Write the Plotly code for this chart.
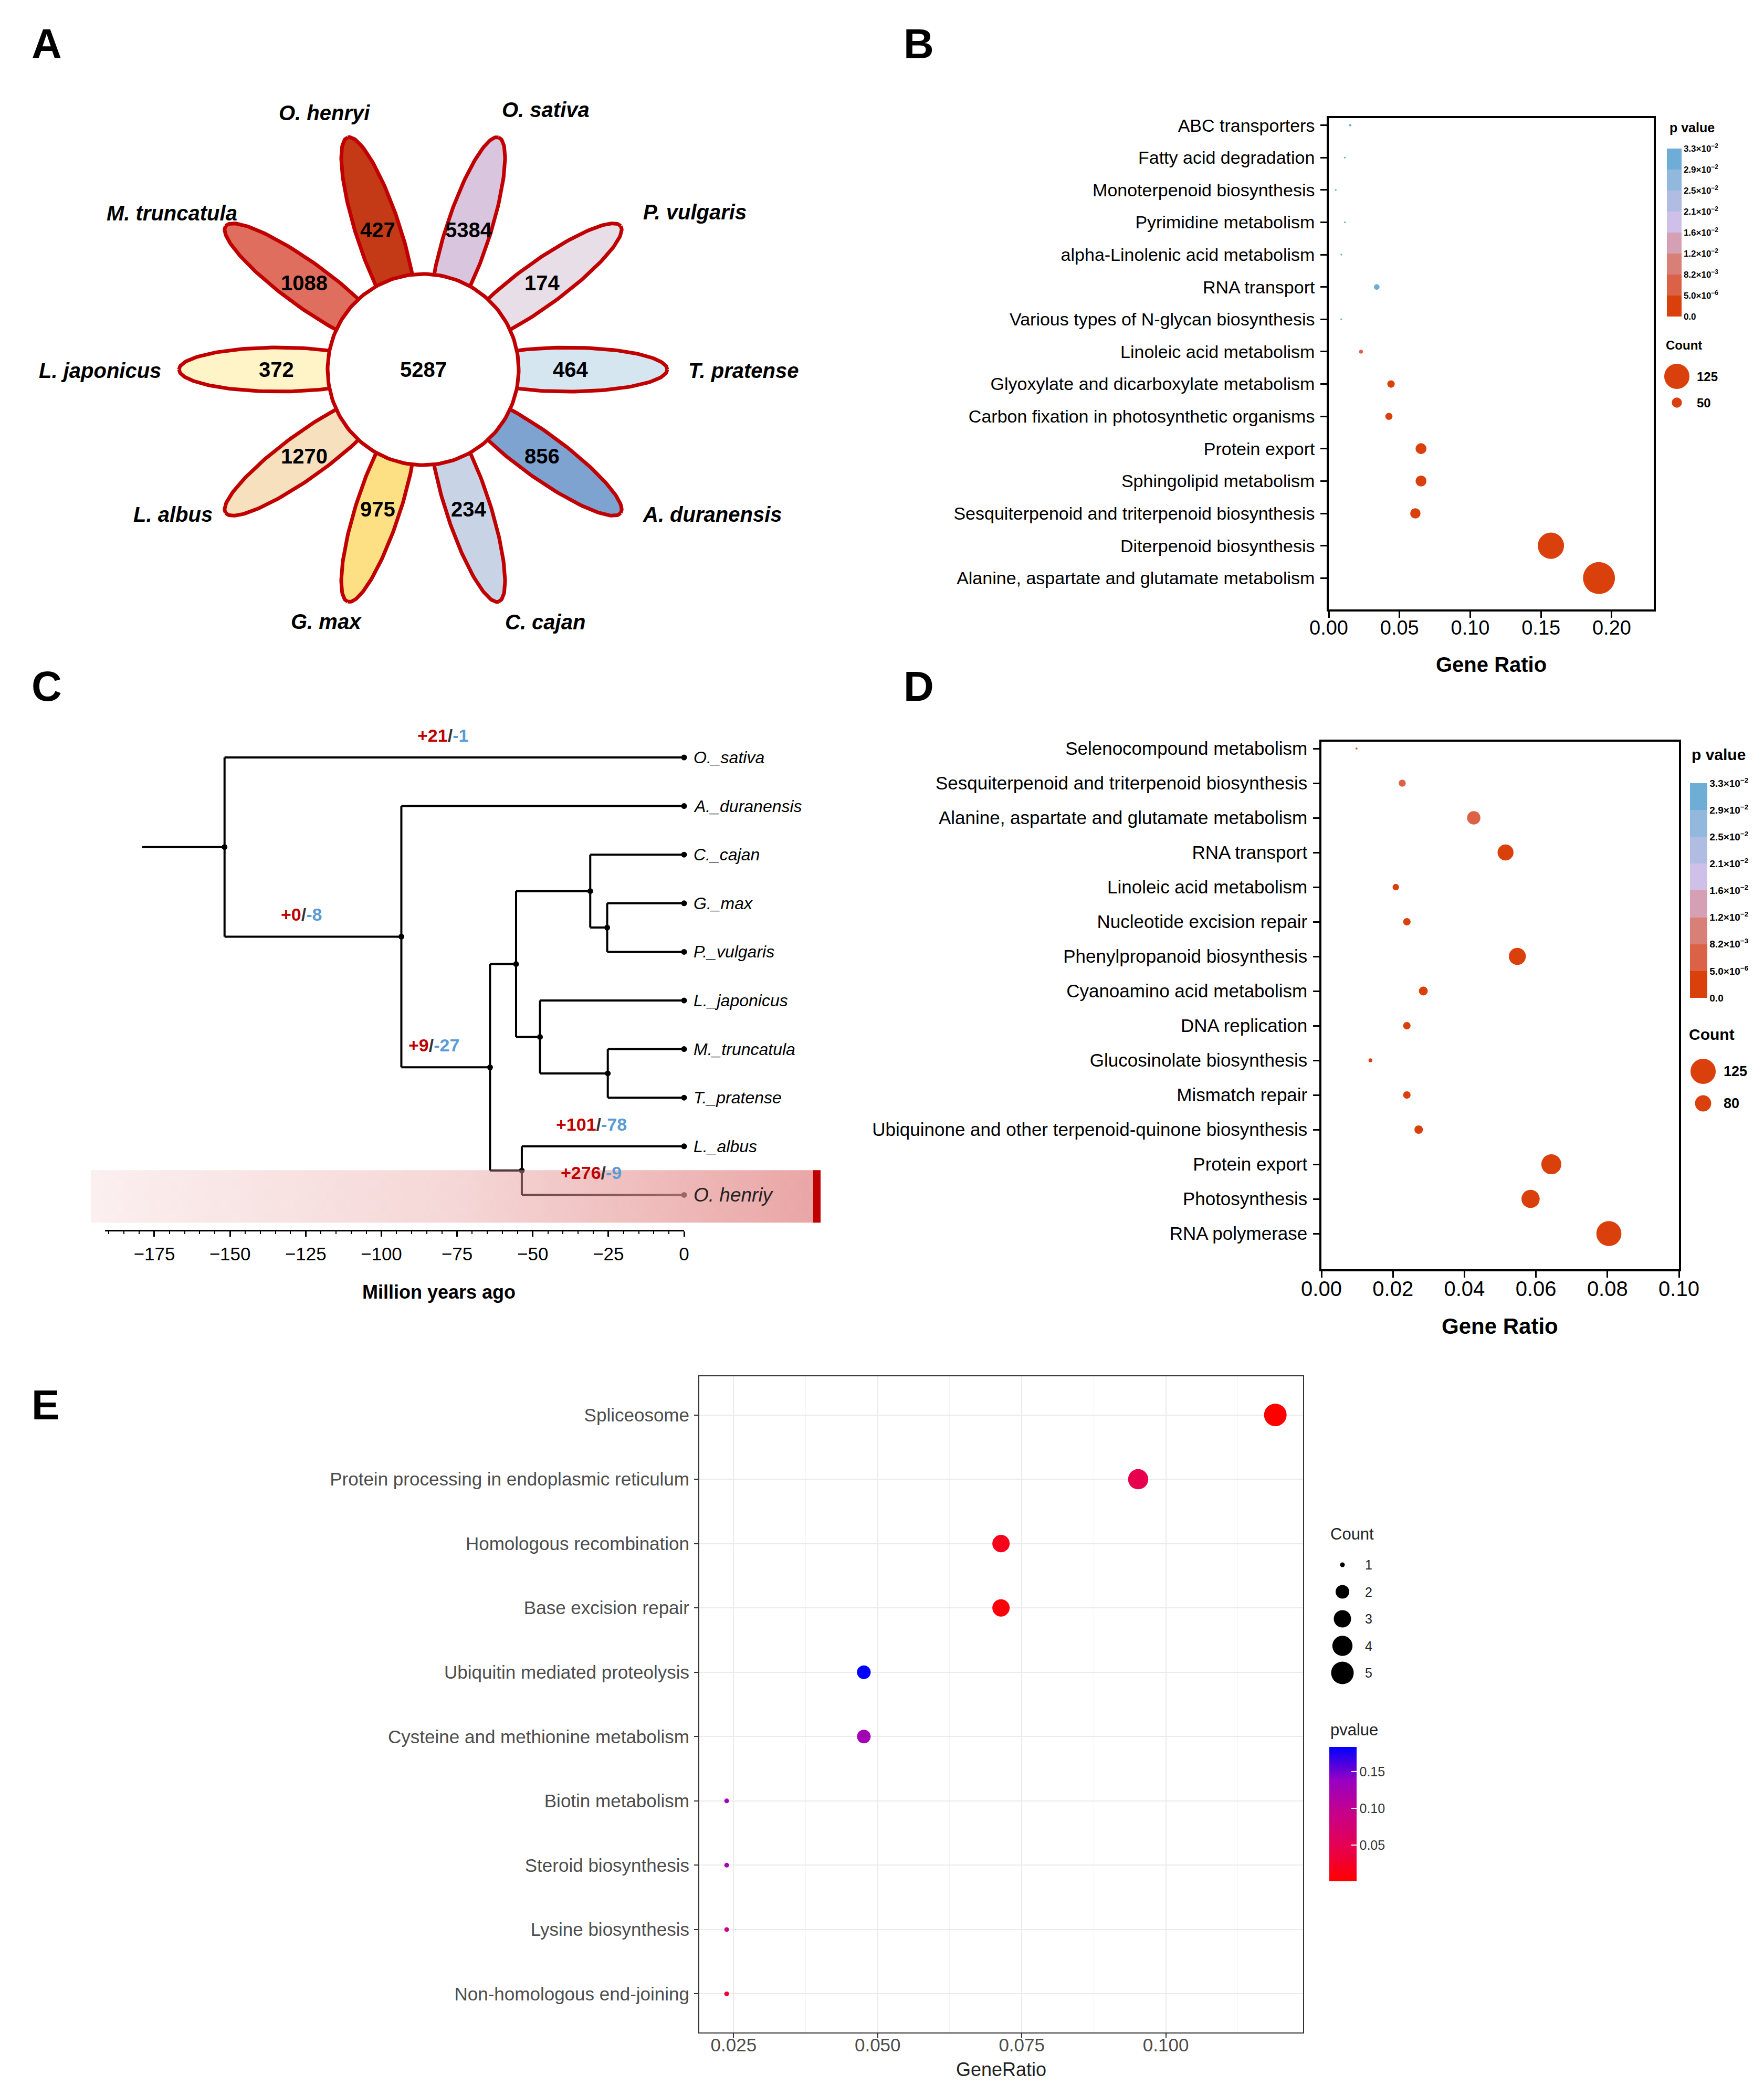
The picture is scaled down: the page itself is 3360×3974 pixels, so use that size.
import numpy as np
import plotly.graph_objects as go

W, H = 3360, 3974
FONT = "Liberation Sans, Arial, Helvetica, sans-serif"

# ======================= DATA =======================
# ---- Panel A : flower (petal order = counter-clockwise from the right) ----
FLOWER_SPECIES = ["T. pratense", "P. vulgaris", "O. sativa", "O. henryi", "M. truncatula",
                  "L. japonicus", "L. albus", "G. max", "C. cajan", "A. duranensis"]
FLOWER_UNIQUE = [464, 174, 5384, 427, 1088, 372, 1270, 975, 234, 856]
FLOWER_CORE = 5287
FLOWER_FILL = ["#D5E6F0", "#E8DEE8", "#DAC5DF", "#C43A17", "#E06E5F",
               "#FFF4C8", "#F6E0BE", "#FDE083", "#C8D4E6", "#7EA3D0"]

# ---- Panel B ----
B_TERMS = ["ABC transporters", "Fatty acid degradation", "Monoterpenoid biosynthesis",
           "Pyrimidine metabolism", "alpha-Linolenic acid metabolism", "RNA transport",
           "Various types of N-glycan biosynthesis", "Linoleic acid metabolism",
           "Glyoxylate and dicarboxylate metabolism", "Carbon fixation in photosynthetic organisms",
           "Protein export", "Sphingolipid metabolism", "Sesquiterpenoid and triterpenoid biosynthesis",
           "Diterpenoid biosynthesis", "Alanine, aspartate and glutamate metabolism"]
B_RATIO = [0.0151, 0.0113, 0.0049, 0.0114, 0.0089, 0.0339, 0.0089, 0.0228,
           0.0440, 0.0425, 0.0652, 0.0652, 0.0612, 0.157, 0.191]
B_COUNT = [12, 9, 4, 9, 7, 28, 7, 19, 37, 35, 54, 54, 51, 130, 158]
B_PVALUE = [0.0322, 0.0310, 0.0316, 0.0305, 0.0312, 0.0328, 0.0309, 0.0041,
            2.1e-6, 1.8e-6, 4.0e-9, 6.2e-9, 1.1e-8, 0.0, 0.0]
B_COUNT_KEYS = [125, 50]

# ---- Panel D ----
D_TERMS = ["Selenocompound metabolism", "Sesquiterpenoid and triterpenoid biosynthesis",
           "Alanine, aspartate and glutamate metabolism", "RNA transport", "Linoleic acid metabolism",
           "Nucleotide excision repair", "Phenylpropanoid biosynthesis", "Cyanoamino acid metabolism",
           "DNA replication", "Glucosinolate biosynthesis", "Mismatch repair",
           "Ubiquinone and other terpenoid-quinone biosynthesis", "Protein export",
           "Photosynthesis", "RNA polymerase"]
D_RATIO = [0.0098, 0.0226, 0.0426, 0.0515, 0.0208, 0.0239, 0.0548, 0.0285,
           0.0239, 0.0137, 0.0239, 0.0272, 0.0643, 0.0585, 0.0804]
D_COUNT = [11, 35, 66, 79, 32, 37, 84, 44, 37, 19, 37, 42, 99, 90, 124]
D_PVALUE = [0.0062, 0.0038, 0.0027, 1.2e-7, 3.3e-6, 2.4e-6, 5.1e-9, 1.7e-6,
            2.2e-6, 9.0e-7, 2.6e-6, 1.4e-6, 0.0, 3.0e-9, 0.0]
D_COUNT_KEYS = [125, 80]

# shared binned p-value legend of B and D
P_BREAKS = [0.0, 5.0e-6, 8.2e-3, 1.2e-2, 1.6e-2, 2.1e-2, 2.5e-2, 2.9e-2, 3.3e-2]
P_BIN_COLORS = ["#DA400C", "#DB6246", "#D88078", "#D6A0B4",
                "#CEC0E8", "#B0BCE2", "#92B8DE", "#6EAED6"]

# ---- Panel C : dated tree ----
TREE_TIPS = ["O._sativa", "A._duranensis", "C._cajan", "G._max", "P._vulgaris",
             "L._japonicus", "M._truncatula", "T._pratense", "L._albus", "O. henriy"]
TREE_NODES = [  # (node, age in Mya (negative), children)
    ("n_GP", -25.4, ("G._max", "P._vulgaris")),
    ("n_CGP", -31.0, ("C._cajan", "n_GP")),
    ("n_MT", -25.2, ("M._truncatula", "T._pratense")),
    ("n_LMT", -47.6, ("L._japonicus", "n_MT")),
    ("n_core", -55.5, ("n_CGP", "n_LMT")),
    ("n_LO", -53.6, ("L._albus", "O. henriy")),
    ("n_pap", -64.1, ("n_core", "n_LO")),
    ("n_leg", -93.4, ("A._duranensis", "n_pap")),
    ("n_root", -151.8, ("O._sativa", "n_leg")),
]
TREE_ROOT_STEM = -179.0
GAIN_LOSS = [("O._sativa", 21, 1), ("n_leg", 0, 8), ("n_pap", 9, 27),
             ("L._albus", 101, 78), ("O. henriy", 276, 9)]
HIGHLIGHT_TIP = "O. henriy"
TIME_TICKS = [-175, -150, -125, -100, -75, -50, -25, 0]

# ---- Panel E ----
E_TERMS = ["Spliceosome", "Protein processing in endoplasmic reticulum", "Homologous recombination",
           "Base excision repair", "Ubiquitin mediated proteolysis", "Cysteine and methionine metabolism",
           "Biotin metabolism", "Steroid biosynthesis", "Lysine biosynthesis", "Non-homologous end-joining"]
E_RATIO = [0.119, 0.0952, 0.0714, 0.0714, 0.0476, 0.0476, 0.0238, 0.0238, 0.0238, 0.0238]
E_COUNT = [5, 4, 3, 3, 2, 2, 1, 1, 1, 1]
E_PVALUE = [0.0005, 0.046, 0.015, 0.006, 0.184, 0.128, 0.132, 0.125, 0.089, 0.030]
E_COUNT_KEYS = [1, 2, 3, 4, 5]
E_P_TICKS = [0.05, 0.10, 0.15]

# ======================= HELPERS =======================
def dom_x(a, b):
    return [a / W, b / W]

def dom_y(top, bottom):
    return [1 - bottom / H, 1 - top / H]

def px(x, y):
    return dict(x=x / W, y=1 - y / H, xref="paper", yref="paper")

def size_bd(c):
    return np.maximum(3.5, 0.385 * np.asarray(c, dtype=float))

def size_e(c):
    c = np.asarray(c, dtype=float)
    return 9 + (43 - 9) * np.sqrt((c - 1) / 4.0)

def p_bin(p):
    b = np.searchsorted(np.asarray(P_BREAKS), np.asarray(p, dtype=float), side="right") - 1
    return np.clip(b, 0, len(P_BIN_COLORS) - 1)

def sci(v):
    if v == 0:
        return "<b>0.0</b>"
    e = int(np.floor(np.log10(v)))
    m = v / 10 ** e
    return "<b>%.1f×10<sup>−%d</sup></b>" % (m, -e)

nb = len(P_BIN_COLORS)
DISCRETE = []
for i, c in enumerate(P_BIN_COLORS):
    DISCRETE.append([i / nb, c])
    DISCRETE.append([(i + 1) / nb, c])

LAB_RED_BLUE = [[0, "#FF0000"], [0.25, "#E7004F"], [0.5, "#C80088"], [0.75, "#9900C2"], [1, "#0000FF"]]

fig = go.Figure()
ann = []

def T(text, size, color="black", **kw):
    d = dict(text=text, showarrow=False, font=dict(family=FONT, size=size, color=color),
             xanchor="center", yanchor="middle")
    d.update(kw)
    return d

# ======================= PANEL A =======================
CXA, CYA = 798, 696
A_LEFT, A_RIGHT, A_TOP, A_BOT = 0, 1650, 100, 1290
PET_C, PET_A, PET_B, CIRC_R, NUM_R = 275, 190, 42, 182, 280
tt = np.linspace(0, 2 * np.pi, 181)
n_pet = len(FLOWER_SPECIES)
for i, (sp, val, col) in enumerate(zip(FLOWER_SPECIES, FLOWER_UNIQUE, FLOWER_FILL)):
    th = 2 * np.pi * i / n_pet
    u = PET_C + PET_A * np.cos(tt)
    v = PET_B * np.sin(tt)
    xs = u * np.cos(th) - v * np.sin(th)
    ys = u * np.sin(th) + v * np.cos(th)
    fig.add_trace(go.Scatter(x=xs, y=ys, mode="lines", fill="toself", fillcolor=col,
                             line=dict(color="#C00000", width=7), xaxis="x", yaxis="y",
                             hoverinfo="skip", showlegend=False))
    ann.append(T("<b>%d</b>" % val, 40, xref="x", yref="y",
                 x=NUM_R * np.cos(th), y=NUM_R * np.sin(th)))
fig.add_trace(go.Scatter(x=CIRC_R * np.cos(tt), y=CIRC_R * np.sin(tt), mode="lines", fill="toself",
                         fillcolor="white", line=dict(color="#C00000", width=7),
                         xaxis="x", yaxis="y", hoverinfo="skip", showlegend=False))
ann.append(T("<b>%d</b>" % FLOWER_CORE, 40, xref="x", yref="y", x=0, y=0))
SPECIES_LABEL_OFFSET = {  # label centre relative to flower centre (px, y up)
    "T. pratense": (610, -2), "P. vulgaris": (517, 300), "O. sativa": (233, 495),
    "O. henryi": (-188, 489), "M. truncatula": (-479, 298), "L. japonicus": (-616, -2),
    "L. albus": (-477, -276), "G. max": (-185, -480), "C. cajan": (232, -481),
    "A. duranensis": (551, -276)}
for sp in FLOWER_SPECIES:
    dx, dy = SPECIES_LABEL_OFFSET[sp]
    ann.append(T("<b><i>%s</i></b>" % sp, 40, xref="x", yref="y", x=dx, y=dy))

# ======================= PANEL B & D =======================
def enrich_panel(terms, ratio, count, pval, xa, ya, box, yrange, xrange, xticks,
                 cb_x, cb_top, cb_len, cb_thick, cb_font, tickfont_y, tickfont_x):
    bins = p_bin(pval)
    fig.add_trace(go.Scatter(
        x=ratio, y=list(range(len(terms))), mode="markers", xaxis=xa, yaxis=ya,
        marker=dict(size=size_bd(count), color=bins + 0.5, colorscale=DISCRETE, cmin=0, cmax=nb,
                    line=dict(width=0), opacity=1, showscale=True,
                    colorbar=dict(x=cb_x / W, xanchor="left", y=1 - cb_top / H, yanchor="top",
                                  len=cb_len, lenmode="pixels", thickness=cb_thick,
                                  thicknessmode="pixels", xpad=0, ypad=0, outlinewidth=0,
                                  tickmode="array", tickvals=list(range(nb + 1)),
                                  ticktext=[sci(v) for v in P_BREAKS], ticks="",
                                  tickfont=dict(family=FONT, size=cb_font, color="black"))),
        hoverinfo="skip", showlegend=False))
    l, t, r, b = box
    axx = dict(domain=dom_x(l, r), range=xrange, anchor=ya, showgrid=False, zeroline=False,
               automargin=False,
               showline=True, linecolor="black", linewidth=3.5, mirror=True,
               ticks="outside", ticklen=12, tickwidth=3, tickcolor="black",
               tickmode="array", tickvals=xticks, ticktext=["%.2f" % v for v in xticks],
               tickfont=dict(family=FONT, size=tickfont_x, color="black"), ticklabelstandoff=-13)
    axy = dict(domain=dom_y(t, b), range=yrange, anchor=xa, showgrid=False, zeroline=False,
               automargin=False,
               showline=True, linecolor="black", linewidth=3.5, mirror=True,
               ticks="outside", ticklen=12, tickwidth=3, tickcolor="black",
               tickmode="array", tickvals=list(range(len(terms))), ticktext=terms,
               tickfont=dict(family=FONT, size=tickfont_y, color="black"), ticklabelstandoff=4)
    return axx, axy

xb, yb = enrich_panel(B_TERMS, B_RATIO, B_COUNT, B_PVALUE, "x2", "y2", (2523, 217, 3142, 1153),
                      [14.97, -0.221], [0, 0.2297], [0, 0.05, 0.10, 0.15, 0.20],
                      3167, 275, 320, 28, 17, 34, 38)
xd, yd = enrich_panel(D_TERMS, D_RATIO, D_COUNT, D_PVALUE, "x5", "y5", (2509, 1405, 3190, 2410),
                      [15.03, -0.197], [0, 0.10], [0, 0.02, 0.04, 0.06, 0.08, 0.10],
                      3211, 1484, 409, 33, 19, 35, 40)

# ======================= PANEL C : tree =======================
K = 5.766           # px per million years
ZERO_PX = 1295
TIP0_PX, TIP_STEP = 1435, 92.6
C_LEFT, C_RIGHT, C_TOP, C_BOT = 150, 1600, 1380, 2335
node_x = {t: 0.0 for t in TREE_TIPS}
node_y = {t: float(i) for i, t in enumerate(TREE_TIPS)}
parent = {}
for name, age, ch in TREE_NODES:
    node_x[name] = age
    node_y[name] = (node_y[ch[0]] + node_y[ch[1]]) / 2.0
    for c in ch:
        parent[c] = name
lx, ly = [], []
for name, age, ch in TREE_NODES:
    ys = [node_y[c] for c in ch]
    lx += [age, age, None]
    ly += [min(ys), max(ys), None]
    for c in ch:
        lx += [age, node_x[c], None]
        ly += [node_y[c], node_y[c], None]
root = TREE_NODES[-1][0]
lx += [TREE_ROOT_STEM, node_x[root], None]
ly += [node_y[root], node_y[root], None]
fig.add_trace(go.Scatter(x=lx, y=ly, mode="lines", line=dict(color="black", width=4),
                         xaxis="x3", yaxis="y3", hoverinfo="skip", showlegend=False))
all_nodes = TREE_TIPS + [n for n, _, _ in TREE_NODES]
fig.add_trace(go.Scatter(x=[node_x[n] for n in all_nodes], y=[node_y[n] for n in all_nodes],
                         mode="markers", marker=dict(color="black", size=11, opacity=1),
                         xaxis="x3", yaxis="y3", hoverinfo="skip", showlegend=False))
# highlight band over the highlighted tip
hy = node_y[HIGHLIGHT_TIP]
bx0, bx1, bx2 = (165 - ZERO_PX) / K, (1541 - ZERO_PX) / K, (1555 - ZERO_PX) / K
by0, by1 = hy - 0.51, hy + 0.57
fig.add_trace(go.Scatter(x=[bx0, bx1, bx1, bx0, bx0], y=[by0, by0, by1, by1, by0], mode="lines",
                         fill="toself", line=dict(width=0, color="rgba(0,0,0,0)"),
                         fillgradient=dict(type="horizontal",
                                           colorscale=[[0, "rgba(230,150,150,0.15)"],
                                                       [0.5, "rgba(230,150,150,0.38)"],
                                                       [1, "rgba(230,150,150,0.85)"]]),
                         xaxis="x3", yaxis="y3", hoverinfo="skip", showlegend=False))
fig.add_trace(go.Scatter(x=[bx1, bx2, bx2, bx1, bx1], y=[by0, by0, by1, by1, by0], mode="lines",
                         fill="toself", fillcolor="#C00000", line=dict(width=0, color="#C00000"),
                         xaxis="x3", yaxis="y3", hoverinfo="skip", showlegend=False))
fig.add_trace(go.Scatter(x=[None], y=[None], xaxis="x4", yaxis="y3", showlegend=False))
for t in TREE_TIPS:
    if t == HIGHLIGHT_TIP:
        ann.append(T("<i>%s</i>" % t, 37, color="#222222", xref="x3", yref="y3", x=0, y=node_y[t],
                     xanchor="left", xshift=16))
    else:
        ann.append(T("<i>%s</i>" % t, 32, xref="x3", yref="y3", x=0, y=node_y[t],
                     xanchor="left", xshift=16))
for n, g, l in GAIN_LOSS:
    xm = (node_x[parent[n]] + node_x[n]) / 2.0
    txt = ("<b><span style='color:#C00000'>+%d</span>/<span style='color:#5B9BD5'>-%d</span></b>"
           % (g, l))
    ann.append(T(txt, 34, color="#333333", xref="x3", yref="y3", x=xm, y=node_y[n],
                 xshift=-22, yshift=42))

# ======================= PANEL E =======================
fig.add_trace(go.Scatter(
    x=E_RATIO, y=list(range(len(E_TERMS))), mode="markers", xaxis="x6", yaxis="y6",
    marker=dict(size=size_e(E_COUNT), color=E_PVALUE, colorscale=LAB_RED_BLUE, opacity=1,
                cmin=min(E_PVALUE), cmax=max(E_PVALUE), line=dict(width=0), showscale=True,
                colorbar=dict(x=2524 / W, xanchor="left", y=1 - 3320 / H, yanchor="top",
                              len=256, lenmode="pixels", thickness=52, thicknessmode="pixels",
                              xpad=0, ypad=0, outlinewidth=0, tickmode="array",
                              tickvals=E_P_TICKS, ticktext=["%.2f" % v for v in E_P_TICKS],
                              ticks="inside", ticklen=10, tickwidth=2, tickcolor="white",
                              tickfont=dict(family=FONT, size=25, color="#333333"))),
    hoverinfo="skip", showlegend=False))

# ======================= LEGEND GLYPHS (canvas) =======================
B_LEG_Y = [709, 759]
D_LEG_Y = [2033, 2094]
fig.add_trace(go.Scatter(x=[3186] * len(B_COUNT_KEYS) + [3236] * len(D_COUNT_KEYS),
                         y=B_LEG_Y + D_LEG_Y, mode="markers", xaxis="x7", yaxis="y7",
                         marker=dict(size=size_bd(B_COUNT_KEYS + D_COUNT_KEYS), color=P_BIN_COLORS[0],
                                     opacity=1, line=dict(width=0)), hoverinfo="skip", showlegend=False))
for k, y in zip(B_COUNT_KEYS, B_LEG_Y):
    ann.append(T("<b>%d</b>" % k, 24, xanchor="left", **px(3222, y)))
for k, y in zip(D_COUNT_KEYS, D_LEG_Y):
    ann.append(T("<b>%d</b>" % k, 27, xanchor="left", **px(3273, y)))
E_LEG_Y = [2973 + 51.5 * i for i in range(len(E_COUNT_KEYS))]
fig.add_trace(go.Scatter(x=[2549] * len(E_COUNT_KEYS), y=E_LEG_Y, mode="markers", xaxis="x7", yaxis="y7",
                         marker=dict(size=size_e(E_COUNT_KEYS), color="black", opacity=1,
                                     line=dict(width=0)),
                         hoverinfo="skip", showlegend=False))
for k, y in zip(E_COUNT_KEYS, E_LEG_Y):
    ann.append(T("%d" % k, 25, color="#222222", xanchor="left", **px(2590, y)))

# legend titles and axis titles
ann.append(T("<b>p value</b>", 25, xanchor="left", **px(3170, 235)))
ann.append(T("<b>Count</b>", 24, xanchor="left", **px(3163, 650)))
ann.append(T("<b>p value</b>", 30, xanchor="left", **px(3212, 1429)))
ann.append(T("<b>Count</b>", 30, xanchor="left", **px(3207, 1962)))
ann.append(T("Count", 31, color="#222222", xanchor="left", **px(2524, 2914)))
ann.append(T("pvalue", 31, color="#222222", xanchor="left", **px(2524, 3287)))
ann.append(T("<b>Gene Ratio</b>", 40, **px(2832, 1258)))
ann.append(T("<b>Gene Ratio</b>", 42, **px(2849, 2518)))
ann.append(T("<b>Million years ago</b>", 36, **px(828, 2453)))
ann.append(T("GeneRatio", 36, color="#222222", **px(1899, 3934)))
# panel letters
for letter, (x, y) in zip("ABCDE", [(81, 76), (1742, 76), (81, 1299), (1742, 1299), (78, 2668)]):
    ann.append(T("<b>%s</b>" % letter, 80, **px(x, y)))

# ======================= LAYOUT =======================
hidden = dict(visible=False, showgrid=False, zeroline=False, fixedrange=True, automargin=False)
minor_vals = [v for v in range(-190, 0, 5) if v not in TIME_TICKS]
fig.update_layout(
    template="none",
    width=W, height=H, autosize=False, margin=dict(l=0, r=0, t=0, b=0, pad=0),
    paper_bgcolor="white", plot_bgcolor="rgba(0,0,0,0)", showlegend=False,
    font=dict(family=FONT, color="black"),
    xaxis=dict(domain=dom_x(A_LEFT, A_RIGHT), range=[A_LEFT - CXA, A_RIGHT - CXA], anchor="y", **hidden),
    yaxis=dict(domain=dom_y(A_TOP, A_BOT), range=[CYA - A_BOT, CYA - A_TOP], anchor="x", **hidden),
    xaxis2=xb, yaxis2=yb,
    xaxis3=dict(domain=dom_x(C_LEFT, C_RIGHT),
                range=[(C_LEFT - ZERO_PX) / K, (C_RIGHT - ZERO_PX) / K], anchor="y3", **hidden),
    yaxis3=dict(domain=dom_y(C_TOP, C_BOT),
                range=[(C_BOT - TIP0_PX) / TIP_STEP, (C_TOP - TIP0_PX) / TIP_STEP], anchor="x3", **hidden),
    xaxis4=dict(domain=dom_x(192, ZERO_PX), range=[(192 - ZERO_PX) / K, 0], anchor="y3",
                automargin=False,
                showgrid=False, zeroline=False, showline=True, linecolor="black", linewidth=3,
                ticks="outside", ticklen=10, tickwidth=3, tickcolor="black",
                tickmode="array", tickvals=TIME_TICKS,
                minor=dict(tickmode="array", tickvals=minor_vals, ticks="outside",
                           ticklen=5, tickwidth=2, tickcolor="black", showgrid=False),
                tickfont=dict(family=FONT, size=35, color="black"), ticklabelstandoff=3),
    xaxis5=xd, yaxis5=yd,
    xaxis6=dict(domain=dom_x(1324, 2474), range=[0.01905, 0.12381], anchor="y6", automargin=False,
                showgrid=True, gridcolor="#EBEBEB", gridwidth=2.2, zeroline=False,
                minor=dict(tickmode="array", tickvals=[0.0375, 0.0625, 0.0875, 0.1125],
                           showgrid=True, gridcolor="#F3F3F3", gridwidth=1.2),
                showline=True, linecolor="#333333", linewidth=2, mirror=True,
                ticks="outside", ticklen=8, tickwidth=2, tickcolor="#333333",
                tickmode="array", tickvals=[0.025, 0.05, 0.075, 0.1],
                ticktext=["0.025", "0.050", "0.075", "0.100"],
                tickfont=dict(family=FONT, size=35, color="#4D4D4D"), ticklabelstandoff=-16),
    yaxis6=dict(domain=dom_y(2614, 3864), range=[9.6, -0.6], anchor="x6", automargin=False,
                showgrid=True, gridcolor="#EBEBEB", gridwidth=2.2, zeroline=False,
                showline=True, linecolor="#333333", linewidth=2, mirror=True,
                ticks="outside", ticklen=8, tickwidth=2, tickcolor="#333333",
                tickmode="array", tickvals=list(range(len(E_TERMS))), ticktext=E_TERMS,
                tickfont=dict(family=FONT, size=35, color="#4D4D4D"), ticklabelstandoff=2),
    xaxis7=dict(domain=[0, 1], range=[0, W], anchor="y7", **hidden),
    yaxis7=dict(domain=[0, 1], range=[H, 0], anchor="x7", **hidden),
    annotations=ann,
)

fig.write_html("out.html")
